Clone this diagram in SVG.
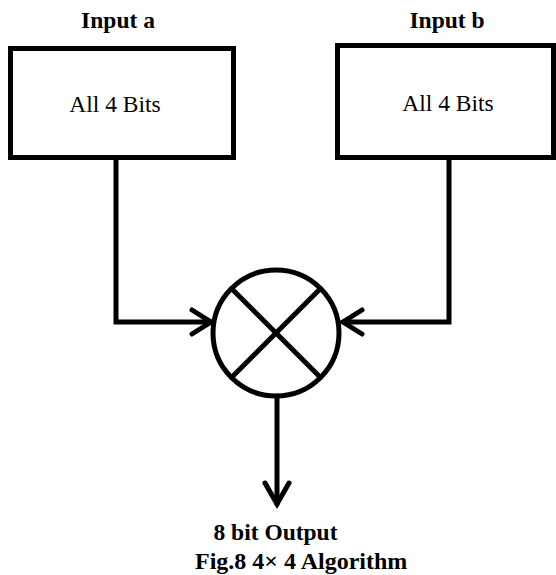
<svg xmlns="http://www.w3.org/2000/svg" width="556" height="575" viewBox="0 0 556 575">
<style>
.box{fill:#fff;stroke:#000;stroke-width:5}
.ln{fill:none;stroke:#000;stroke-width:5;stroke-linecap:round;stroke-linejoin:miter}
text{font-family:"Liberation Serif","Times New Roman",serif;fill:#000}
.b{font-weight:bold}
</style>
<rect width="556" height="575" fill="#fff"/>
<g id="inputA">
<text class="b" x="118" y="28" font-size="23.5" text-anchor="middle">Input a</text>
<rect class="box" x="10.5" y="48.5" width="223" height="109"/>
<text x="115" y="112" font-size="23.5" text-anchor="middle">All 4 Bits</text>
</g>
<g id="inputB">
<text class="b" x="447" y="28" font-size="23.5" text-anchor="middle">Input b</text>
<rect class="box" x="337.5" y="45.5" width="216" height="112"/>
<text x="448" y="111" font-size="23.5" text-anchor="middle">All 4 Bits</text>
</g>
<g id="multiplier">
<circle cx="276" cy="333" r="63" fill="#fff" stroke="#000" stroke-width="5"/>
<line class="ln" x1="231.5" y1="288.5" x2="320.5" y2="377.5" stroke-linecap="butt"/>
<line class="ln" x1="320.5" y1="288.5" x2="231.5" y2="377.5" stroke-linecap="butt"/>
</g>
<g id="output">
<text class="b" x="275.5" y="540" font-size="23.5" text-anchor="middle">8 bit Output</text>
<text class="b" x="195" y="569" font-size="24">Fig.8 4× 4 Algorithm</text>
</g>
<g id="connectors">
<path class="ln" d="M116 160 V322 H211" stroke-linecap="butt"/>
<path class="ln" d="M192 310 L211 322 L192 334"/>
<path class="ln" d="M449 160 V322 H343" stroke-linecap="butt"/>
<path class="ln" d="M362 310 L343 322 L362 334"/>
<path class="ln" d="M277 396 V504" stroke-linecap="butt"/>
<path class="ln" d="M265 483 L277 504 L289 483"/>
</g>
</svg>
